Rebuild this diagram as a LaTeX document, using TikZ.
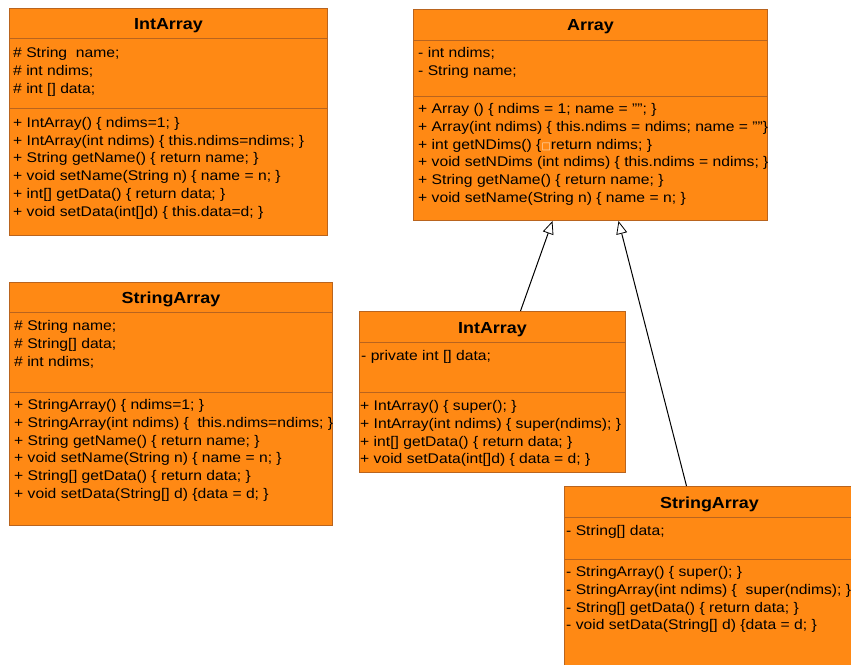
\documentclass[tikz,border=0pt]{standalone}
\usepackage{fontspec}
\setmainfont{Liberation Sans}[FakeStretch=1.12]
\newfontfamily\symfont{DejaVu Sans}
\usepackage{tikz}
\usetikzlibrary{arrows.meta}
\usetikzlibrary{calc}
\definecolor{umlfill}{RGB}{255,137,20}
\definecolor{umlline}{RGB}{185,100,30}

\begin{document}
\begin{tikzpicture}[x=1pt, y=-1pt,
	umlbox/.style={fill=umlfill, draw=umlline, line width=1pt, anchor=north west, inner sep=0},
	classname/.style={anchor=base, inner sep=0, font=\fontsize{16}{19}\selectfont\bfseries},
	members/.style={anchor=north west, inner sep=0, align=left, font=\fontsize{14}{17.7}\selectfont},
	sepline/.style={draw=umlline, line width=0.8pt},
	extends/.style={line width=1pt, -{Triangle[width=11pt, length=13pt, fill=white, line width=0.8pt]}}]
	\useasboundingbox (0,0) rectangle (851,664);
	\clip (0,0) rectangle (851,664);

	% IntArray (alone)
	\node[umlbox, minimum width=318pt, minimum height=227pt] (intone) at (9,8) {};
	\node[classname] (intonename) at ($(intone.north)+(0,21.5)$) {IntArray};
	\draw[sepline] ($(intone.north west)+(0,30)$) -- ($(intone.north east)+(0,30)$);
	\draw[sepline] ($(intone.north west)+(0,100)$) -- ($(intone.north east)+(0,100)$);
	\node[members] (intoneattr) at ($(intone.north west)+(4,37.2)$)
		{\strut\# String\ \ name;\\ \# int ndims;\\ \# int [] data;};
	\node[members] (intoneops) at ($(intone.north west)+(4,107)$)
		{\strut+ IntArray() \{ ndims=1; \}\\
		 + IntArray(int ndims) \{ this.ndims=ndims; \}\\
		 + String getName() \{ return name; \}\\
		 + void setName(String n) \{ name = n; \}\\
		 + int[] getData() \{ return data; \}\\
		 + void setData(int[]d) \{ this.data=d; \}};

	% StringArray (alone)
	\node[umlbox, minimum width=323pt, minimum height=243pt] (strone) at (9,282) {};
	\node[classname] (stronename) at ($(strone.north)+(0,21.5)$) {StringArray};
	\draw[sepline] ($(strone.north west)+(0,30)$) -- ($(strone.north east)+(0,30)$);
	\draw[sepline] ($(strone.north west)+(0,110)$) -- ($(strone.north east)+(0,110)$);
	\node[members] (stroneattr) at ($(strone.north west)+(5,36.2)$)
		{\strut\# String name;\\ \# String[] data;\\ \# int ndims;};
	\node[members] (stroneops) at ($(strone.north west)+(5,115.2)$)
		{\strut+ StringArray() \{ ndims=1; \}\\
		 + StringArray(int ndims) \{\ \ this.ndims=ndims; \}\\
		 + String getName() \{ return name; \}\\
		 + void setName(String n) \{ name = n; \}\\
		 + String[] getData() \{ return data; \}\\
		 + void setData(String[] d) \{data = d; \}};

	% Array
	\node[umlbox, minimum width=354pt, minimum height=211pt] (array) at (413,9) {};
	\node[classname] (arrayname) at ($(array.north)+(0,21.5)$) {Array};
	\draw[sepline] ($(array.north west)+(0,31)$) -- ($(array.north east)+(0,31)$);
	\draw[sepline] ($(array.north west)+(0,87)$) -- ($(array.north east)+(0,87)$);
	\node[members] (arrayattr) at ($(array.north west)+(5,36.2)$)
		{\strut- int ndims;\\ - String name;};
	\node[members] (arrayops) at ($(array.north west)+(5,92.2)$)
		{\strut+ Array () \{ ndims = 1; name = ""; \}\\
		 + Array(int ndims) \{ this.ndims = ndims; name = ""\}\\
		 + int getNDims() \{{\color{white!75!umlfill}\symfont\fontsize{10}{10}\selectfont □}return ndims; \}\\
		 + void setNDims (int ndims) \{ this.ndims = ndims; \}\\
		 + String getName() \{ return name; \}\\
		 + void setName(String n) \{ name = n; \}};

	% IntArray extends Array
	\node[umlbox, minimum width=266pt, minimum height=161pt] (inttwo) at (359,311) {};
	\node[classname] (inttwoname) at ($(inttwo.north)+(0,22)$) {IntArray};
	\draw[sepline] ($(inttwo.north west)+(0,31)$) -- ($(inttwo.north east)+(0,31)$);
	\draw[sepline] ($(inttwo.north west)+(0,81)$) -- ($(inttwo.north east)+(0,81)$);
	\node[members] (inttwoattr) at ($(inttwo.north west)+(2,36.7)$)
		{\strut- private int [] data;};
	\node[members] (inttwoops) at ($(inttwo.north west)+(1,87.2)$)
		{\strut+ IntArray() \{ super(); \}\\
		 + IntArray(int ndims) \{ super(ndims); \}\\
		 + int[] getData() \{ return data; \}\\
		 + void setData(int[]d) \{ data = d; \}};

	% StringArray extends Array
	\node[umlbox, minimum width=290pt, minimum height=200pt] (strtwo) at (564,486) {};
	\node[classname] (strtwoname) at ($(strtwo.north)+(0,22)$) {StringArray};
	\draw[sepline] ($(strtwo.north west)+(0,31)$) -- ($(strtwo.north east)+(0,31)$);
	\draw[sepline] ($(strtwo.north west)+(0,73)$) -- ($(strtwo.north east)+(0,73)$);
	\node[members] (strtwoattr) at ($(strtwo.north west)+(2,37.4)$)
		{\strut- String[] data;};
	\node[members] (strtwoops) at ($(strtwo.north west)+(2,78.2)$)
		{\strut- StringArray() \{ super(); \}\\
		 - StringArray(int ndims) \{\ \ super(ndims); \}\\
		 - String[] getData() \{ return data; \}\\
		 - void setData(String[] d) \{data = d; \}};

	\draw[extends] ($(inttwo.north)+(28,0)$) -- ($(array.south)+(-38,0)$);
	\draw[extends] ($(strtwo.north)+(-23,0)$) -- ($(array.south)+(28,0)$);
\end{tikzpicture}
\end{document}
